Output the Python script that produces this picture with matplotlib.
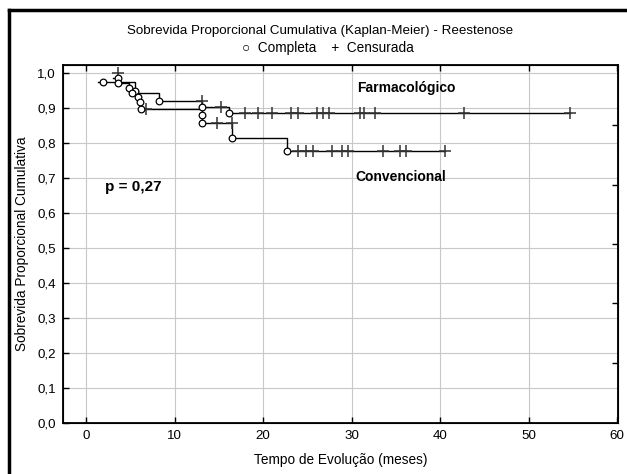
import matplotlib
matplotlib.use("Agg")
import matplotlib.pyplot as plt
import numpy as np

plt.rcParams['font.family'] = ['Liberation Sans', 'DejaVu Sans']

# Convencional (lower curve): event times / survival after each event
conv_t = [1.9, 5.5, 5.9, 6.05, 6.2, 13.1, 13.1, 16.45, 22.75]
conv_s = [0.974, 0.948, 0.932, 0.917, 0.897, 0.88, 0.858, 0.815, 0.778]
conv_cens_t = [6.8, 14.8, 16.45, 23.9, 24.9, 25.6, 27.8, 28.9, 29.6, 33.6, 35.5, 36.2, 40.6]

# Farmacologico (upper curve)
farm_t = [3.6, 3.6, 4.9, 5.2, 8.25, 13.1, 16.2]
farm_s = [0.986, 0.971, 0.957, 0.943, 0.921, 0.903, 0.885]
farm_cens_t = [3.6, 13.1, 15.3, 18.0, 19.4, 21.0, 23.2, 24.0, 26.1, 26.8, 27.4,
               30.9, 31.4, 32.7, 42.7, 54.7]

yticks = np.arange(0, 1.01, 0.1)
xticks = [0, 10, 20, 30, 40, 50, 60]

fig = plt.figure(figsize=(6.27, 4.74), dpi=100)
ax = fig.add_axes([0.1005, 0.1076, 0.8851, 0.7553])

for ev_t, ev_s, cens_t in [(conv_t, conv_s, conv_cens_t), (farm_t, farm_s, farm_cens_t)]:
    last = max(cens_t + ev_t)
    xs = [ev_t[0] - 0.6] + list(ev_t) + [last]
    ys = [ev_s[0]] + list(ev_s) + [ev_s[-1]]
    ax.step(xs, ys, where='post', color='black', lw=1.0, zorder=3)
    ax.plot(ev_t, ev_s, 'o', ms=4.8, mfc='white', mec='black', mew=0.9, zorder=5)
    # censored cases sit on the level before any drop at the same time
    cy = []
    for t in cens_t:
        before = [s for et, s in zip(ev_t, ev_s) if et < t]
        cy.append(before[-1] if before else 1.0)
    ax.plot(cens_t, cy, '+', ms=8, mec='#333333', mew=1.1, zorder=4)

ax.set_xlim(-2.6, 60.1)
ax.set_ylim(0, 1.023)
ax.set_xticks(xticks)
ax.set_yticks(yticks)
ax.set_yticklabels([f"{v:.1f}".replace('.', ',') for v in yticks], fontsize=9.6)
ax.set_xticklabels([str(v) for v in xticks], fontsize=9.6)
ax.grid(True, color='#c8c8c8', lw=0.8)
ax.set_axisbelow(True)
ax.tick_params(direction='in', length=4, width=1, top=True, right=False, pad=5)
for sp in ax.spines.values():
    sp.set_linewidth(1.3)

ax2 = ax.twinx()
ax2.set_ylim(0, 1.023)
ax2.set_yticks([0.171, 0.343, 0.511, 0.680, 0.851])
ax2.set_yticklabels([])
ax2.tick_params(direction='in', length=4, width=1)

ax.set_xlabel("Tempo de Evolução (meses)", fontsize=9.8, labelpad=8)
ax.set_ylabel("Sobrevida Proporcional Cumulativa", fontsize=9.8, labelpad=6)

ax.text(30.6, 0.958, "Farmacológico", fontsize=10, fontweight='bold', va='center')
ax.text(30.4, 0.704, "Convencional", fontsize=10, fontweight='bold', va='center')
ax.text(2.2, 0.674, "p = 0,27", fontsize=11, fontweight='bold', va='center')

fig.text(0.51, 0.935, "Sobrevida Proporcional Cumulativa (Kaplan-Meier) - Reestenose",
         ha='center', va='center', fontsize=9.6)
fig.text(0.523, 0.898, "○  Completa    +  Censurada", ha='center', va='center', fontsize=9.8)

# frame lines on the left and top of the figure
fig.add_artist(plt.Line2D([0.014, 0.014], [0, 0.979], color='black', lw=2.5))
fig.add_artist(plt.Line2D([0.014, 1.0], [0.979, 0.979], color='black', lw=2.5))

fig.savefig("out.png", dpi=100)
